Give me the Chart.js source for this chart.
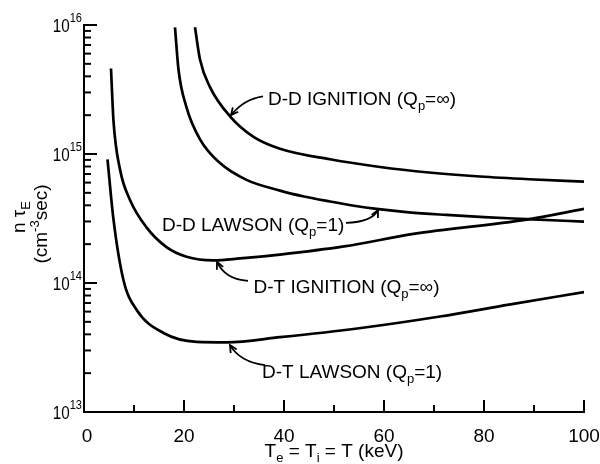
<!DOCTYPE html>
<html>
<head>
<meta charset="utf-8">
<script src="https://cdn.jsdelivr.net/npm/chart.js@4/dist/chart.umd.min.js"></script>
<style>
html,body{margin:0;padding:0;background:#fff}
#wrap{width:600px;height:464px}
</style>
</head>
<body>
<div id="wrap"><canvas id="c" width="600" height="464"></canvas></div>
<script>
// ---- data ----
const ddIgnT = [22.2, 23.2, 25.2, 29.2, 33.9, 39.2, 49.2, 59.2, 69, 79.2, 89, 100];
const ddIgnN = [9.6e15, 5.4e15, 3.3e15, 1.96e15, 1.36e15, 1.1e15, 9.1e14, 7.93e14, 7.19e14, 6.69e14, 6.37e14, 6.1e14];

const ddLawT = [18.2, 18.9, 20.5, 23.2, 27.2, 32.5, 39.2, 44, 49.2, 54, 58.5, 65, 72.5, 80, 88.5, 100];
const ddLawN = [9.6e15, 4.5e15, 2.3e15, 1.3e15, 8.5e14, 6.3e14, 5.2e14, 4.68e14, 4.28e14, 3.97e14, 3.75e14, 3.53e14, 3.37e14, 3.24e14, 3.13e14, 2.99e14];

const dtIgnT = [5.4, 5.9, 7.2, 9.2, 12.5, 16.5, 20.5, 25.9, 31.2, 39.2, 52, 65.9, 88.5, 100];
const dtIgnN = [4.6e15, 1.8e15, 7.6e14, 4.4e14, 2.7e14, 1.9e14, 1.6e14, 1.5e14, 1.55e14, 1.66e14, 1.92e14, 2.4e14, 3.1e14, 3.75e14];

const dtLawT = [4.7, 5.9, 7.9, 10.5, 15.9, 22.5, 28.5, 39.2, 55, 71.2, 85, 100];
const dtLawN = [9.1e14, 3.1e14, 1.05e14, 6.2e13, 4.1e13, 3.5e13, 3.47e13, 3.8e13, 4.46e13, 5.5e13, 6.8e13, 8.5e13];

const xTickValues = [10, 20, 30, 40, 50, 60, 70, 80, 90, 100];
const xTickLabels = ['0', '20', '40', '60', '80', '100'];
const xLabelValues = [0, 20, 40, 60, 80, 100];
const yDecadeExps = [13, 14, 15, 16];

const seriesNames = ['D-D IGNITION', 'D-D LAWSON', 'D-T IGNITION', 'D-T LAWSON'];
const seriesQ = ['∞', '1', '∞', '1'];

// ---- annotation placement (data coordinates) ----
const notes = [
  {text: [36.8, 2.71e15], arrow: [[35.8, 2.8e15], [32.0, 2.67e15], [29.4, 2.0e15]]},
  {text: [15.6, 2.89e14], arrow: [[52.4, 2.92e14], [57.6, 2.97e14], [58.8, 3.68e14]]},
  {text: [33.9, 9.55e13], arrow: [[32.8, 1.04e14], [28.2, 1.07e14], [26.6, 1.46e14]]},
  {text: [35.6, 2.08e13], arrow: [[36.2, 2.31e13], [31.2, 2.44e13], [29.2, 3.3e13]]}
];

const FONT = '"Liberation Sans", Arial, sans-serif';

function pts(t, n) { return t.map((x, i) => ({x: x, y: n[i]})); }

function drawRuns(ctx, runs, x, y, align) {
  let w = 0;
  const ws = runs.map(r => {
    ctx.font = r.s + 'px ' + FONT;
    const m = ctx.measureText(r.t).width * (r.sx || 1);
    w += m;
    return m;
  });
  let cx = align === 'center' ? x - w / 2 : (align === 'right' ? x - w : x);
  ctx.textAlign = 'left';
  ctx.textBaseline = 'alphabetic';
  runs.forEach((r, i) => {
    ctx.font = r.s + 'px ' + FONT;
    ctx.save();
    ctx.translate(cx, y + (r.dy || 0));
    ctx.scale(r.sx || 1, 1);
    ctx.fillText(r.t, 0, 0);
    ctx.restore();
    cx += ws[i];
  });
  return w;
}

const overlay = {
  id: 'overlay',
  afterDraw(chart) {
    const ctx = chart.ctx;
    const xs = chart.scales.x, ys = chart.scales.y, ca = chart.chartArea;
    ctx.save();
    ctx.strokeStyle = '#000';
    ctx.fillStyle = '#000';
    ctx.lineWidth = 2;
    ctx.lineCap = 'butt';

    // y ticks (inward)
    yDecadeExps.forEach(e => {
      for (let m = 1; m <= 9; m++) {
        if (e === 16 && m > 1) break;
        const py = ys.getPixelForValue(m * Math.pow(10, e));
        const len = m === 1 ? 13 : 7;
        ctx.beginPath(); ctx.moveTo(ca.left, py); ctx.lineTo(ca.left + len, py); ctx.stroke();
      }
      const py = ys.getPixelForValue(Math.pow(10, e));
      drawRuns(ctx, [{t: '10', s: 19, sx: 0.8}, {t: String(e), s: 13, dy: -10, sx: 0.85}], ca.left - 2, py + 7, 'right');
    });

    // x ticks (inward)
    xTickValues.forEach(v => {
      const px = xs.getPixelForValue(v);
      const len = v % 20 === 0 ? 12 : 7;
      ctx.beginPath(); ctx.moveTo(px, ca.bottom); ctx.lineTo(px, ca.bottom - len); ctx.stroke();
    });
    xLabelValues.forEach((v, i) => {
      const px = xs.getPixelForValue(v);
      drawRuns(ctx, [{t: xTickLabels[i], s: 19}], px + (v === 0 ? 3 : 0), ca.bottom + 30, 'center');
    });

    // x title
    drawRuns(ctx, [
      {t: 'T', s: 19}, {t: 'e', s: 13, dy: 5}, {t: ' = T', s: 19}, {t: 'i', s: 13, dy: 5},
      {t: ' = T (keV)', s: 19}
    ], (ca.left + ca.right) / 2, 457, 'center');

    // y title (rotated)
    ctx.save();
    ctx.translate(25, 217);
    ctx.rotate(-Math.PI / 2);
    drawRuns(ctx, [{t: 'n τ', s: 19}, {t: 'E', s: 13, dy: 5}], 0, 0, 'center');
    ctx.restore();
    ctx.save();
    ctx.translate(47, 224);
    ctx.rotate(-Math.PI / 2);
    drawRuns(ctx, [{t: '(cm', s: 19}, {t: '-3', s: 13, dy: -8}, {t: 'sec)', s: 19}], 0, 0, 'center');
    ctx.restore();

    // annotations
    notes.forEach((n, i) => {
      const tx = xs.getPixelForValue(n.text[0]);
      const ty = ys.getPixelForValue(n.text[1]);
      drawRuns(ctx, [
        {t: seriesNames[i] + ' (Q', s: 19}, {t: 'p', s: 13, dy: 5}, {t: '=' + seriesQ[i] + ')', s: 19}
      ], tx, ty + 7, 'left');
      const p = n.arrow.map(a => [xs.getPixelForValue(a[0]), ys.getPixelForValue(a[1])]);
      ctx.lineWidth = 1.8;
      ctx.beginPath();
      ctx.moveTo(p[0][0], p[0][1]);
      ctx.quadraticCurveTo(p[1][0], p[1][1], p[2][0], p[2][1]);
      ctx.stroke();
      const ang = Math.atan2(p[2][1] - p[1][1], p[2][0] - p[1][0]);
      const L = 8, A = 0.45;
      ctx.beginPath();
      ctx.moveTo(p[2][0] - L * Math.cos(ang - A), p[2][1] - L * Math.sin(ang - A));
      ctx.lineTo(p[2][0], p[2][1]);
      ctx.lineTo(p[2][0] - L * Math.cos(ang + A), p[2][1] - L * Math.sin(ang + A));
      ctx.stroke();
    });
    ctx.restore();
  }
};

function lineDs(t, n) {
  return {
    data: pts(t, n), showLine: true, borderColor: '#000', borderWidth: 2.7,
    pointRadius: 0, cubicInterpolationMode: 'monotone', fill: false
  };
}

new Chart(document.getElementById('c'), {
  type: 'scatter',
  data: {datasets: [lineDs(ddIgnT, ddIgnN), lineDs(ddLawT, ddLawN), lineDs(dtIgnT, dtIgnN), lineDs(dtLawT, dtLawN)]},
  options: {
    responsive: false, animation: false, devicePixelRatio: 1,
    layout: {padding: {top: 25, right: 16, left: 0, bottom: 0}},
    plugins: {legend: {display: false}, tooltip: {enabled: false}},
    scales: {
      x: {
        type: 'linear', min: 0, max: 100,
        grid: {display: false}, border: {display: true, color: '#000', width: 2},
        ticks: {display: false},
        afterFit(s) { s.height = 52; }
      },
      y: {
        type: 'logarithmic', min: 1e13, max: 1e16,
        grid: {display: false}, border: {display: true, color: '#000', width: 2},
        ticks: {display: false},
        afterFit(s) { s.width = 84; }
      }
    }
  },
  plugins: [overlay]
});
</script>
</body>
</html>
